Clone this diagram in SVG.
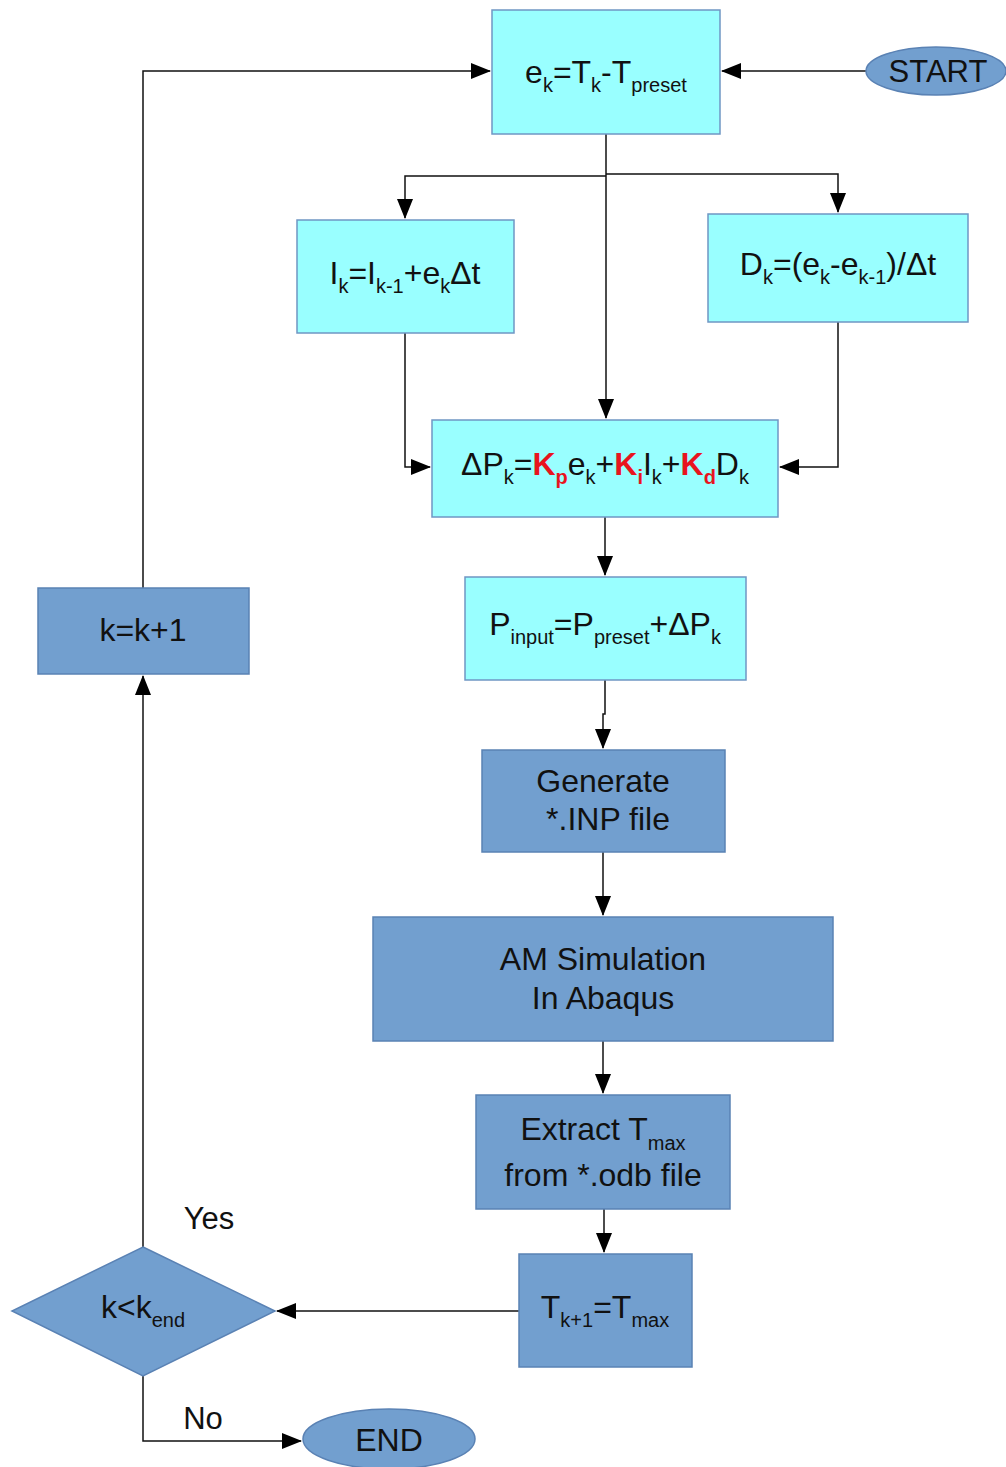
<svg xmlns="http://www.w3.org/2000/svg" width="1006" height="1467" viewBox="0 0 1006 1467">
<style>
.lt{fill:#99ffff;stroke:#6f97c4;stroke-width:1.5}
.dk{fill:#729fcf;stroke:#5a82b4;stroke-width:1.5}
.t{font-family:"Liberation Sans",Arial,sans-serif;font-size:31px;fill:#111;text-anchor:middle}
.f{font-size:32px}
.s{font-size:20px}
.r{fill:#e8141e;font-weight:bold}
.c{fill:none;stroke:#111;stroke-width:1.5}
</style>
<defs>
<marker id="ah" markerUnits="userSpaceOnUse" markerWidth="20" markerHeight="16" refX="19" refY="8" orient="auto">
<path d="M0,0 L20,8 L0,16 Z" fill="#000"/>
</marker>
</defs>
<rect width="1006" height="1467" fill="#fff"/>
<g id="connectors">
<path class="c" d="M866,71 H722" marker-end="url(#ah)"/>
<path class="c" d="M143,588 V71 H490" marker-end="url(#ah)"/>
<path class="c" d="M606,134 V418" marker-end="url(#ah)"/>
<path class="c" d="M606,176 H405 V218" marker-end="url(#ah)"/>
<path class="c" d="M606,174 H838 V212" marker-end="url(#ah)"/>
<path class="c" d="M405,333 V467 H430" marker-end="url(#ah)"/>
<path class="c" d="M838,322 V467 H780" marker-end="url(#ah)"/>
<path class="c" d="M605,517 V575" marker-end="url(#ah)"/>
<path class="c" d="M605,680 V714 H603 V748" marker-end="url(#ah)"/>
<path class="c" d="M603,852 V915" marker-end="url(#ah)"/>
<path class="c" d="M603,1041 V1093" marker-end="url(#ah)"/>
<path class="c" d="M604,1209 V1252" marker-end="url(#ah)"/>
<path class="c" d="M519,1311 H277" marker-end="url(#ah)"/>
<path class="c" d="M143,1247 V676" marker-end="url(#ah)"/>
<path class="c" d="M143,1376 V1441 H301" marker-end="url(#ah)"/>
<text class="t" x="209" y="1229">Yes</text>
<text class="t" x="203" y="1429">No</text>
</g>
<g id="start">
<ellipse class="dk" cx="936" cy="71" rx="70" ry="24"/>
<text class="t" x="938" y="82">START</text>
</g>
<g id="error">
<rect class="lt" x="492" y="10" width="228" height="124"/>
<text class="t f" x="606" y="83">e<tspan class="s" dy="9">k</tspan><tspan dy="-9">=T</tspan><tspan class="s" dy="9">k</tspan><tspan dy="-9">-T</tspan><tspan class="s" dy="9">preset</tspan></text>
</g>
<g id="integral">
<rect class="lt" x="297" y="220" width="217" height="113"/>
<text class="t f" x="405" y="284">I<tspan class="s" dy="9">k</tspan><tspan dy="-9">=I</tspan><tspan class="s" dy="9">k-1</tspan><tspan dy="-9">+e</tspan><tspan class="s" dy="9">k</tspan><tspan dy="-9">Δt</tspan></text>
</g>
<g id="derivative">
<rect class="lt" x="708" y="214" width="260" height="108"/>
<text class="t f" x="838" y="275">D<tspan class="s" dy="9">k</tspan><tspan dy="-9">=(e</tspan><tspan class="s" dy="9">k</tspan><tspan dy="-9">-e</tspan><tspan class="s" dy="9">k-1</tspan><tspan dy="-9">)/Δt</tspan></text>
</g>
<g id="deltaP">
<rect class="lt" x="432" y="420" width="346" height="97"/>
<text class="t f" x="605" y="475">ΔP<tspan class="s" dy="9">k</tspan><tspan dy="-9">=</tspan><tspan class="r">K</tspan><tspan class="s r" dy="9">p</tspan><tspan dy="-9">e</tspan><tspan class="s" dy="9">k</tspan><tspan dy="-9">+</tspan><tspan class="r">K</tspan><tspan class="s r" dy="9">i</tspan><tspan dy="-9">I</tspan><tspan class="s" dy="9">k</tspan><tspan dy="-9">+</tspan><tspan class="r">K</tspan><tspan class="s r" dy="9">d</tspan><tspan dy="-9">D</tspan><tspan class="s" dy="9">k</tspan></text>
</g>
<g id="pinput">
<rect class="lt" x="465" y="577" width="281" height="103"/>
<text class="t f" x="605" y="635">P<tspan class="s" dy="9">input</tspan><tspan dy="-9">=P</tspan><tspan class="s" dy="9">preset</tspan><tspan dy="-9">+ΔP</tspan><tspan class="s" dy="9">k</tspan></text>
</g>
<g id="generate">
<rect class="dk" x="482" y="750" width="243" height="102"/>
<text class="t f" x="603" y="792">Generate</text>
<text class="t f" x="608" y="830">*.INP file</text>
</g>
<g id="simulation">
<rect class="dk" x="373" y="917" width="460" height="124"/>
<text class="t f" x="603" y="970">AM Simulation</text>
<text class="t f" x="603" y="1009">In Abaqus</text>
</g>
<g id="extract">
<rect class="dk" x="476" y="1095" width="254" height="114"/>
<text class="t f" x="603" y="1140">Extract T<tspan class="s" dy="10">max</tspan></text>
<text class="t f" x="603" y="1186">from *.odb file</text>
</g>
<g id="tnext">
<rect class="dk" x="519" y="1254" width="173" height="113"/>
<text class="t f" x="605" y="1318">T<tspan class="s" dy="9">k+1</tspan><tspan dy="-9">=T</tspan><tspan class="s" dy="9">max</tspan></text>
</g>
<g id="decision">
<path class="dk" d="M143,1247 L275,1311 L143,1376 L12,1311 Z"/>
<text class="t f" x="143" y="1318">k&lt;k<tspan class="s" dy="9">end</tspan></text>
</g>
<g id="increment">
<rect class="dk" x="38" y="588" width="211" height="86"/>
<text class="t f" x="143" y="641">k=k+1</text>
</g>
<g id="end">
<ellipse class="dk" cx="389" cy="1439" rx="86" ry="30"/>
<text class="t f" x="389" y="1451">END</text>
</g>
</svg>
